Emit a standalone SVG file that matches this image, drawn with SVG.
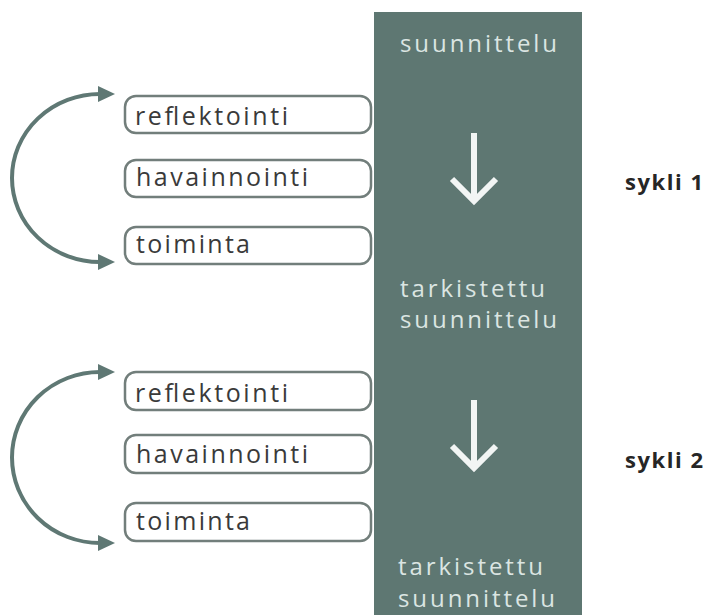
<svg xmlns="http://www.w3.org/2000/svg" width="718" height="615" viewBox="0 0 718 615">
<style>
  .box { fill: #ffffff; stroke: #727e7b; stroke-width: 2.5; }
  .lbl { font-family: "Open Sans", "DejaVu Sans", sans-serif; font-size: 25px; fill: #3a3a3a; }
  .col { fill: #5e7772; }
  .ctext { font-family: "Open Sans", "DejaVu Sans", sans-serif; font-size: 24px; fill: #dbe5e2; }
  .cyc { font-family: "Open Sans", "DejaVu Sans", sans-serif; font-size: 22px; font-weight: bold; fill: #262626; }
  .arc { fill: none; stroke: #5f7874; stroke-width: 4; marker-start: url(#ah); marker-end: url(#ah); }
  .down { fill: none; stroke: #f2f5f4; stroke-width: 6; stroke-linecap: butt; stroke-linejoin: miter; }
</style>
<defs>
  <marker id="ah" markerUnits="userSpaceOnUse" viewBox="0 0 17 16" refX="2" refY="8" markerWidth="17" markerHeight="16" orient="auto-start-reverse">
    <path d="M0,0 L17,8 L0,16 z" fill="#5f7874"/>
  </marker>
</defs>
<rect width="718" height="615" fill="#ffffff"/>

<g id="column">
  <rect class="col" x="374" y="12" width="208" height="603"/>
  <text class="ctext" x="400" y="52" textLength="157" lengthAdjust="spacing">suunnittelu</text>
  <text class="ctext" x="400" y="297" textLength="145" lengthAdjust="spacing">tarkistettu</text>
  <text class="ctext" x="400" y="328" textLength="157" lengthAdjust="spacing">suunnittelu</text>
  <text class="ctext" x="398" y="575" textLength="145" lengthAdjust="spacing">tarkistettu</text>
  <text class="ctext" x="398" y="607" textLength="157" lengthAdjust="spacing">suunnittelu</text>
</g>

<g id="cycle1-reflektointi">
  <rect class="box" x="125" y="96" width="246" height="37" rx="11"/>
  <text class="lbl" x="135" y="125" textLength="153" lengthAdjust="spacing">reflektointi</text>
</g>
<g id="cycle1-havainnointi">
  <rect class="box" x="125" y="160" width="246" height="37" rx="11"/>
  <text class="lbl" x="136" y="186" textLength="172" lengthAdjust="spacing">havainnointi</text>
</g>
<g id="cycle1-toiminta">
  <rect class="box" x="125" y="227" width="246" height="37" rx="11"/>
  <text class="lbl" x="136" y="253" textLength="114" lengthAdjust="spacing">toiminta</text>
</g>

<g id="cycle2-reflektointi">
  <rect class="box" x="125" y="372" width="246" height="38" rx="11"/>
  <text class="lbl" x="135" y="402" textLength="153" lengthAdjust="spacing">reflektointi</text>
</g>
<g id="cycle2-havainnointi">
  <rect class="box" x="125" y="435" width="246" height="38" rx="11"/>
  <text class="lbl" x="136" y="463" textLength="172" lengthAdjust="spacing">havainnointi</text>
</g>
<g id="cycle2-toiminta">
  <rect class="box" x="125" y="503" width="246" height="38" rx="11"/>
  <text class="lbl" x="136" y="530" textLength="114" lengthAdjust="spacing">toiminta</text>
</g>

<g id="label-sykli1">
  <text class="cyc" x="625" y="190" textLength="78" lengthAdjust="spacing">sykli 1</text>
</g>
<g id="label-sykli2">
  <text class="cyc" x="625" y="468" textLength="78" lengthAdjust="spacing">sykli 2</text>
</g>

<g id="connectors">
  <path class="arc" d="M100,94 A88,84 0 0 0 100,262"/>
  <path class="arc" d="M100,372 A88,85.5 0 0 0 100,543"/>
  <path class="down" d="M474,133 L474,201 M452,179 L474,201 L496,179"/>
  <path class="down" d="M474,400 L474,468 M452,446 L474,468 L496,446"/>
</g>
</svg>
